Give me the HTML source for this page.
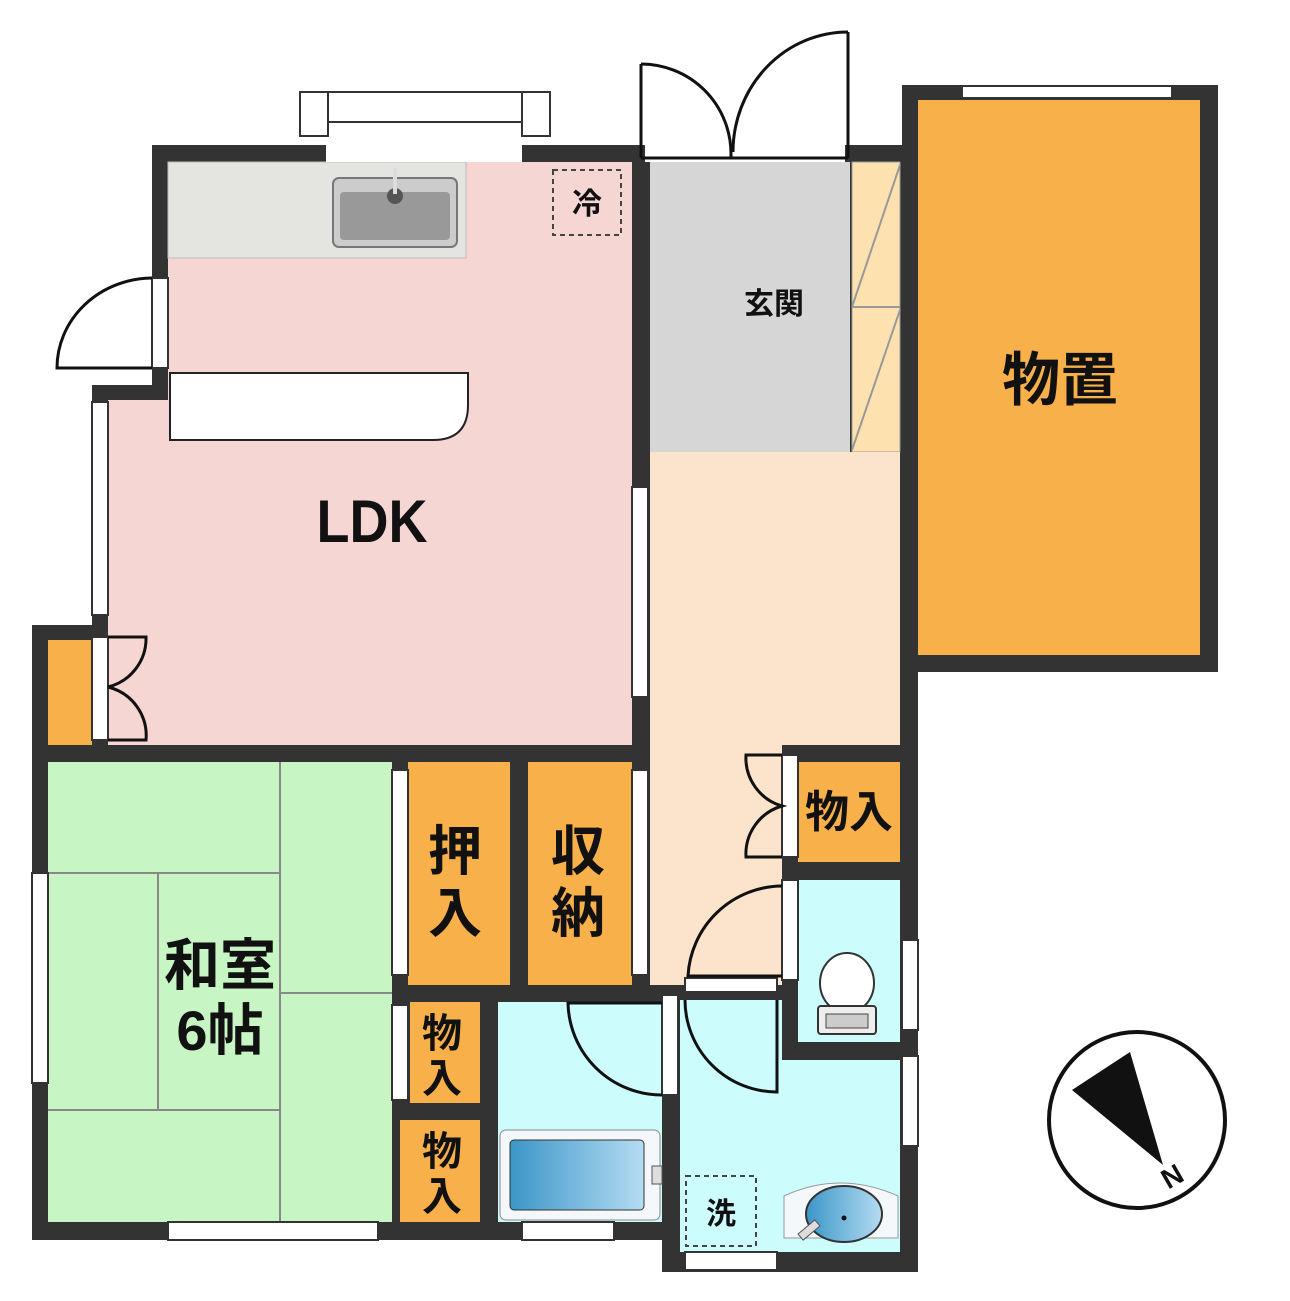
<!DOCTYPE html>
<html><head><meta charset="utf-8"><style>body{margin:0;background:#fff}svg{display:block}text{font-family:"Liberation Sans","Noto Sans CJK JP",sans-serif;fill:#111;text-anchor:middle;font-weight:bold}</style></head><body>
<svg width="1290" height="1301" viewBox="0 0 1290 1301" xmlns="http://www.w3.org/2000/svg">
<g fill="#333">
<rect x="152" y="145" width="766" height="617"/>
<rect x="92" y="385" width="560" height="377"/>
<rect x="32" y="625" width="630" height="615"/>
<rect x="650" y="145" width="268" height="1095"/>
<rect x="662" y="1230" width="256" height="42"/>
<rect x="902" y="85" width="316" height="587"/>
</g>
<g>
<rect x="168" y="162" width="464" height="583" fill="#f6d6d2"/>
<rect x="108" y="400" width="62" height="345" fill="#f6d6d2"/>
<rect x="168" y="162" width="298" height="96" fill="#e4e4e0" stroke="#bbb"/>
<rect x="333" y="178" width="124" height="69" rx="6" fill="#ccc" stroke="#777" stroke-width="2"/>
<rect x="340" y="192" width="110" height="48" rx="4" fill="#999"/>
<circle cx="395" cy="196" r="8" fill="#555"/><rect x="393" y="168" width="4" height="26" fill="#ddd"/>
<rect x="553" y="170" width="68" height="65" fill="none" stroke="#444" stroke-width="2" stroke-dasharray="5,4"/>
<path d="M170 373 H468 V405 Q468 440 433 440 H170 Z" fill="#fff" stroke="#222" stroke-width="2"/>
<rect x="48" y="640" width="44" height="105" fill="#f7b04a"/>
<rect x="650" y="162" width="200" height="290" fill="#d6d6d6"/>
<rect x="852" y="162" width="48" height="290" fill="#fde2b0" stroke="#999"/>
<line x1="852" y1="307" x2="900" y2="307" stroke="#999" stroke-width="2"/>
<path d="M852 307 L900 165 M852 450 L900 310" stroke="#999" stroke-width="2"/>
<rect x="650" y="452" width="250" height="293" fill="#fce4cc"/>
<rect x="650" y="745" width="132" height="240" fill="#fce4cc"/>
<rect x="918" y="100" width="282" height="555" fill="#f7b04a"/>
<rect x="48" y="762" width="344" height="460" fill="#c8f5c4"/>
<g stroke="#888" stroke-width="2"><line x1="280" y1="762" x2="280" y2="1222"/><line x1="48" y1="873" x2="280" y2="873"/><line x1="158" y1="873" x2="158" y2="1110"/><line x1="48" y1="1110" x2="280" y2="1110"/><line x1="280" y1="993" x2="392" y2="993"/></g>
<rect x="408" y="762" width="102" height="223" fill="#f7b04a"/>
<rect x="528" y="762" width="104" height="223" fill="#f7b04a"/>
<rect x="798" y="762" width="102" height="100" fill="#f7b04a"/>
<rect x="798" y="880" width="102" height="162" fill="#ccfcfc"/>
<rect x="680" y="1060" width="220" height="192" fill="#ccfcfc"/>
<rect x="680" y="1000" width="102" height="62" fill="#ccfcfc"/>
<rect x="498" y="1002" width="164" height="220" fill="#ccfcfc"/>
<rect x="410" y="1002" width="70" height="101" fill="#f7b04a"/>
<rect x="400" y="1120" width="80" height="102" fill="#f7b04a"/>
</g>
<rect x="500" y="1130" width="160" height="90" rx="6" fill="#f4f8fa" stroke="#888"/>
<defs><linearGradient id="g" x1="0" x2="1"><stop offset="0" stop-color="#3b96c8"/><stop offset="1" stop-color="#b5dcf2"/></linearGradient></defs>
<rect x="510" y="1140" width="134" height="70" rx="4" fill="url(#g)" stroke="#333"/>
<rect x="652" y="1166" width="10" height="18" fill="#ddd" stroke="#555"/>
<path d="M784 1196 Q840 1170 898 1196 V1238 H784 Z" fill="#f4f8fa" stroke="#999"/>
<ellipse cx="844" cy="1214" rx="38" ry="28" fill="url(#g)" stroke="#333" stroke-width="2"/>
<circle cx="844" cy="1218" r="2.5" fill="#111"/>
<rect x="798" y="1226" width="22" height="8" fill="#ddd" stroke="#555" transform="rotate(-40 809 1230)"/>
<rect x="686" y="1176" width="70" height="70" fill="none" stroke="#444" stroke-width="2" stroke-dasharray="5,4"/>
<ellipse cx="847" cy="983" rx="27" ry="30" fill="#fff" stroke="#333" stroke-width="2"/>
<rect x="818" y="1006" width="58" height="28" rx="3" fill="#eee" stroke="#333" stroke-width="2"/>
<rect x="826" y="1014" width="42" height="14" fill="#ccc" stroke="#444"/>
<g fill="#fff" stroke="#333" stroke-width="2">
<rect x="326" y="140" width="196" height="22" stroke="none"/>
<rect x="300" y="92" width="250" height="30"/><rect x="300" y="92" width="28" height="44"/><rect x="522" y="92" width="28" height="44"/>
<rect x="962" y="86" width="210" height="12"/>
<rect x="92" y="402" width="16" height="213"/>
<rect x="32" y="873" width="16" height="210"/>
<rect x="168" y="1222" width="210" height="18"/>
<rect x="632" y="487" width="16" height="210"/>
<rect x="392" y="770" width="16" height="205"/>
<rect x="632" y="770" width="16" height="205"/>
<rect x="392" y="1005" width="16" height="95"/>
<rect x="902" y="940" width="16" height="90"/>
<rect x="902" y="1056" width="16" height="90"/>
<rect x="522" y="1222" width="92" height="18"/>
<rect x="685" y="1252" width="92" height="18"/>
<rect x="685" y="978" width="92" height="14"/>
<rect x="662" y="995" width="16" height="100"/>
<rect x="782" y="880" width="16" height="100"/>
<rect x="782" y="755" width="16" height="102"/>
<rect x="152" y="278" width="16" height="90"/>
<rect x="92" y="637" width="16" height="103"/>
<rect x="645" y="140" width="200" height="22" stroke="none"/>
</g>
<g fill="none" stroke="#111" stroke-width="3">
<path d="M152 278 A96 90 0 0 0 57 368 H152"/>
<path d="M108 637 H146 A50 50 0 0 1 108 687 A50 50 0 0 1 146 740 H108"/>
<path d="M641 64 A90 90 0 0 1 731 154 V158 M641 64 V158"/>
<path d="M848 32 A115 120 0 0 0 733 152 M848 32 V158"/>
<path d="M641 158 H848"/>
<path d="M782 755 H746 A50 50 0 0 0 782 806 A50 50 0 0 0 746 857 H782"/>
<path d="M782 886 A95 95 0 0 0 688 976 H782"/>
<path d="M685 1000 A92 92 0 0 0 777 1092 V1000"/>
<path d="M662 1003 H568 A94 94 0 0 0 662 1095"/>
</g>
<text x="372" y="542" font-size="60" font-weight="normal" transform="translate(372 0) scale(0.9 1) translate(-372 0)">LDK</text>
<text x="1060" y="400" font-size="58">物置</text>
<text x="774" y="314" font-size="30" font-weight="normal">玄関</text>
<text x="587" y="214" font-size="30" font-weight="normal">冷</text>
<text x="721" y="1224" font-size="30" font-weight="normal">洗</text>
<text x="220" y="985" font-size="56">和室</text>
<text x="220" y="1050" font-size="56">6帖</text>
<text x="455" y="870" font-size="54">押</text><text x="455" y="932" font-size="54">入</text>
<text x="578" y="870" font-size="54">収</text><text x="578" y="932" font-size="54">納</text>
<text x="849" y="827" font-size="44">物入</text>
<text x="442" y="1047" font-size="40">物</text><text x="442" y="1092" font-size="40">入</text>
<text x="442" y="1165" font-size="40">物</text><text x="442" y="1210" font-size="40">入</text>
<circle cx="1137" cy="1120" r="88" fill="#fff" stroke="#111" stroke-width="4"/>
<polygon points="1072,1090 1130,1052 1163,1165" fill="#111"/>
<text x="1172" y="1186" font-size="28" font-weight="normal" transform="rotate(-30 1172 1176)">N</text>
</svg>
</body></html>
